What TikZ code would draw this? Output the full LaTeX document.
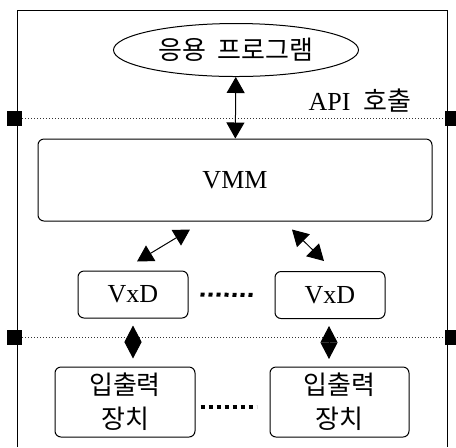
\documentclass[tikz,border=0pt]{standalone}
\usepackage{fontspec}
\setmainfont{Liberation Serif}
\newfontfamily\kr{Noto Sans CJK KR}
\usetikzlibrary{positioning,arrows.meta,shapes.geometric}

\begin{document}
\begin{tikzpicture}[
    x=0.5pt, y=-0.5pt,
    every node/.style={font=\fontsize{13}{17}\selectfont},
    prog/.style={ellipse, draw, line width=0.5pt, minimum width=122.5pt, minimum height=26.5pt, inner sep=0pt},
    box/.style={rectangle, draw, line width=0.5pt, rounded corners=3pt, align=center, inner sep=0pt},
    handle/.style={rectangle, fill=black, minimum size=7.5pt, inner sep=0pt},
    sep/.style={densely dotted, line width=0.5pt, black!80},
    dbl/.style={{Triangle[length=8pt,width=9pt]}-{Triangle[length=8pt,width=9pt]}, line width=0.5pt},
    diam/.style={{Triangle[length=8.25pt,width=8.5pt]}-{Triangle[length=8.25pt,width=8.5pt]}, line width=0.5pt},
    dots/.style={line width=2pt, dash pattern=on 2pt off 2pt}
]
    \useasboundingbox (0,0) rectangle (456,447);
    % frame
    \draw[line width=0.5pt] (17,447) -- (17,10) -- (447,10) -- (447,447);

    \node[prog] (app) at (236,50) {\kr 응용~~프로그램};
    \node (api) at (360,101) {API~~{\kr 호출}};
    \node[box, minimum width=197pt, minimum height=41pt] (vmm) at (235,180) {VMM};
    \node[box, minimum width=55pt, minimum height=23.5pt] (vxd1) at (133,294.5) {VxD};
    \node[box, minimum width=55pt, minimum height=23.5pt] (vxd2) at (330,295) {VxD};
    \node[box, minimum width=70pt, minimum height=35pt] (io1) at (125,402) {\kr 입출력\\\kr 장치};
    \node[box, minimum width=69.5pt, minimum height=35pt] (io2) at (339.5,402) {\kr 입출력\\\kr 장치};

    % separators
    \node[handle] (h1l) at (14.5,118) {};
    \node[handle] (h1r) at (452.5,118) {};
    \node[handle] (h2l) at (14.5,337) {};
    \node[handle] (h2r) at (452.5,337) {};
    \draw[sep] (h1l) -- (h1r);
    \draw[sep] (h2l) -- (h2r);

    \draw[dbl] (app) -- (vmm);
    \draw[dbl] ([xshift=2pt,yshift=4.5pt]vxd1.north) -- ([xshift=-22.5pt,yshift=-4pt]vmm.south);
    \draw[dbl] ([xshift=28.5pt,yshift=-4pt]vmm.south) -- ([xshift=-3pt,yshift=5pt]vxd2.north);
    \draw[diam] ([yshift=-3.5pt]vxd1.south) -- ([yshift=-20pt]vxd1.south);
    \draw[diam] ([xshift=-0.5pt,yshift=-3.5pt]vxd2.south) -- ([xshift=-0.5pt,yshift=-20pt]vxd2.south);

    \draw[dots, shorten <=6pt, shorten >=9.5pt] (vxd1) -- (vxd2);
    \draw[dots, shorten <=2.5pt, shorten >=6.5pt] ([yshift=-2.5pt]io1.east) -- ([yshift=-2.5pt]io2.west);
\end{tikzpicture}
\end{document}
